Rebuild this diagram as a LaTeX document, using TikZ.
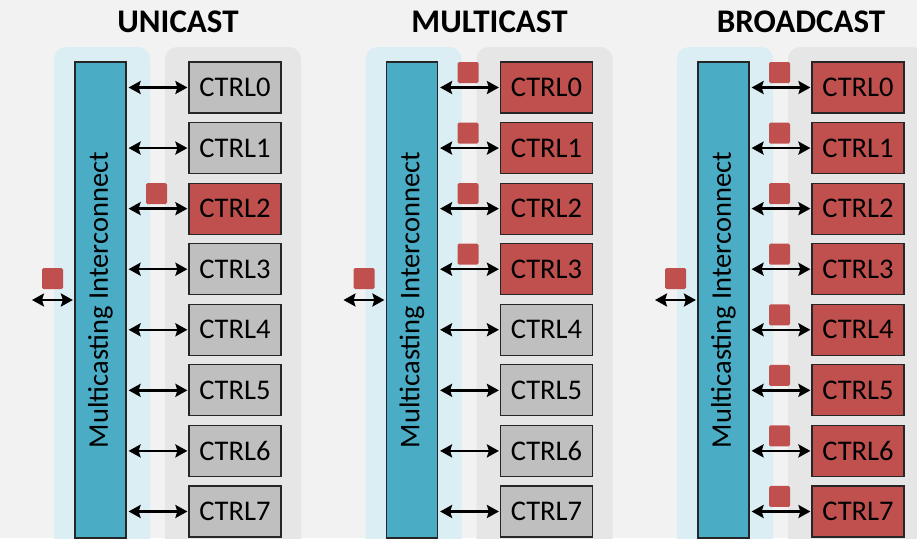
\documentclass[tikz,border=0pt]{standalone}
\usepackage{fontspec}
\setmainfont{Carlito}
\usetikzlibrary{arrows.meta}
\definecolor{bgc}{HTML}{F2F2F2}
\definecolor{lblue}{HTML}{DAEEF3}
\definecolor{lgray}{HTML}{E6E6E6}
\definecolor{barblue}{HTML}{4BACC6}
\definecolor{redc}{HTML}{C0504D}
\definecolor{boxgray}{HTML}{BFBFBF}
\tikzset{
  panelblue/.style={fill=lblue, draw=none, rounded corners=12pt},
  panelgray/.style={fill=lgray, draw=none, rounded corners=12pt},
  ibar/.style={draw=black!85, line width=1.2pt, fill=barblue, minimum width=51pt, minimum height=476pt, inner sep=0pt},
  ctrlbox/.style={draw=black!85, line width=1.2pt, minimum width=92pt, minimum height=51pt, inner sep=0pt, font=\fontsize{28.5}{32}\selectfont},
  pkt/.style={fill=redc, draw=none, rounded corners=1.5pt, minimum size=21pt, inner sep=0pt},
  biarrow/.style={line width=2.4pt, {Stealth[length=12pt,width=13pt,inset=2pt]}-{Stealth[length=12pt,width=13pt,inset=2pt]}},
  ttl/.style={font=\fontsize{33}{37}\selectfont\bfseries, anchor=base},
  bartext/.style={rotate=90, font=\fontsize{28.5}{32}\selectfont}
}
\begin{document}
\begin{tikzpicture}[x=1pt,y=-1pt]
\useasboundingbox (0,0) rectangle (917,538);
\clip (0,0) rectangle (917,538);
\fill[bgc] (0,0) rectangle (917,538);
\foreach \p/\name/\title in {0/u/UNICAST,1/m/MULTICAST,2/b/BROADCAST}{
  \pgfmathsetmacro\dx{311.5*\p}
  \begin{scope}[xshift=\dx pt]
    \fill[panelblue] (54,47) rectangle (150,580);
    \fill[panelgray] (165,47) rectangle (301,580);
    \node[ttl] (t-\name) at (178,32.5) {\title};
    \node[ibar] (bar-\name) at (100.5,300) {};
    \node[bartext] (lbl-\name) at (bar-\name.center) {Multicasting Interconnect};
    \coordinate (in-\name) at (32,300);
    \node[pkt] (pin-\name) at (52.5,278.5) {};
    \draw[biarrow, shorten >=1.5pt] (in-\name) -- (bar-\name.west |- in-\name);
    \foreach \i in {0,...,7}{
      \pgfmathtruncatemacro\isred{or(or(and(\p==0,\i==2),and(\p==1,\i<4)),\p==2)}
      \pgfmathsetmacro\yy{87.5+60.57*\i}
      \ifnum\isred=1
        \node[ctrlbox, fill=redc] (c-\name-\i) at (235,\yy) {CTRL\i};
        \node[pkt] (p-\name-\i) at (156.5,\yy-15) {};
      \else
        \node[ctrlbox, fill=boxgray] (c-\name-\i) at (235,\yy) {CTRL\i};
      \fi
      \draw[biarrow, shorten <=2pt, shorten >=1pt] (bar-\name.east |- c-\name-\i.west) -- (c-\name-\i.west);
    }
  \end{scope}
}
\end{tikzpicture}
\end{document}
